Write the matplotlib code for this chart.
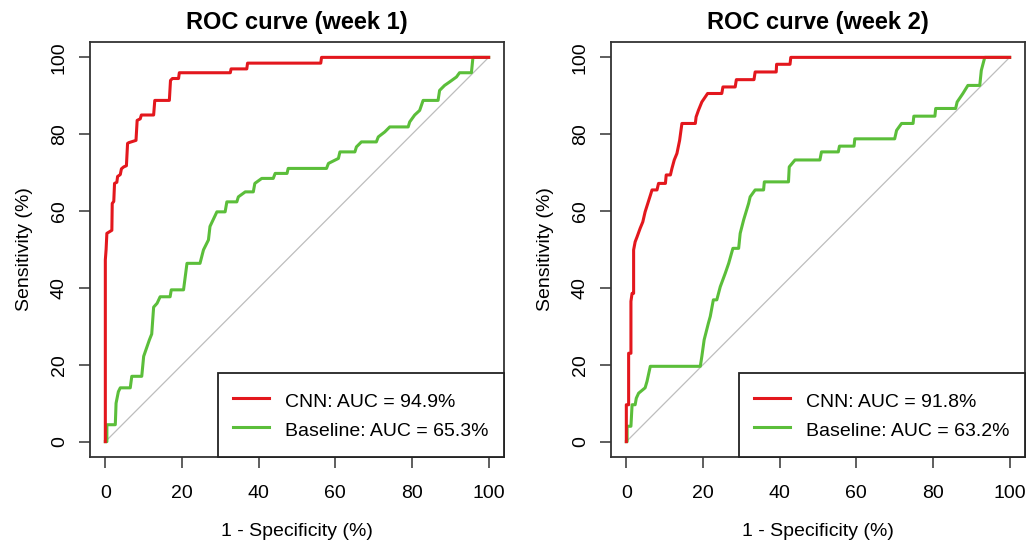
import matplotlib
matplotlib.use("Agg")
import matplotlib.pyplot as plt

plt.rcParams['font.family'] = ['Liberation Sans', 'DejaVu Sans']

# ROC points: (1 - specificity, sensitivity) in %
cnn_w1_fpr = [0, 0, 0.2, 0.4, 1.7, 1.8, 2.2, 2.4, 3.0, 3.2, 3.9, 4.2, 4.8, 5.5, 5.8, 6.1, 8.0, 8.3, 9.1, 9.4,
              12.6, 12.9, 16.7, 17.0, 17.5, 19.1, 19.3, 32.6, 32.8, 36.9, 37.1, 56.2, 56.4, 100]
cnn_w1_tpr = [0, 47.3, 50, 54.2, 55, 62, 62.5, 67.2, 67.5, 69, 69.5, 71, 71.5, 71.8, 77.6, 77.8, 78.4, 83.6, 84, 85,
              85, 88.8, 88.8, 94, 94.5, 94.5, 96, 96, 97, 97, 98.5, 98.5, 100, 100]

base_w1_fpr = [0, 0.4, 0.4, 2.6, 2.8, 3.4, 3.9, 6.5, 6.9, 9.5, 10, 11.5, 12.1, 12.6, 13.5, 14.3, 16.9, 17.2, 20.4,
               21.3, 24.7, 25.6, 26.9, 27.3, 29.1, 31.25, 31.7, 34.3, 34.7, 36.5, 38.6, 39, 40.8, 43.8, 44.3, 47.4,
               47.7, 57.7, 58.2, 60.8, 61.2, 65.1, 65.5, 66.8, 70.7, 71.2, 72.9, 74.2, 79, 79.4, 80.7, 82, 82.9,
               86.8, 87.2, 88.5, 89.8, 91.6, 92.4, 95.5, 95.9, 100]
base_w1_tpr = [0, 0, 4.4, 4.4, 10, 13, 14, 14, 17, 17, 22.2, 26.5, 28, 35, 36, 37.7, 37.7, 39.5, 39.5,
               46.4, 46.4, 49.9, 52.5, 56, 59.8, 59.8, 62.4, 62.4, 63.7, 65, 65, 67.2, 68.5, 68.5, 69.8, 69.8,
               71.1, 71.1, 72.4, 73.7, 75.4, 75.4, 76.7, 78, 78, 79.3, 80.6, 81.9, 81.9, 83.2, 85, 86.2, 88.8,
               88.8, 91.4, 92.7, 93.6, 94.9, 96, 96, 100, 100]

cnn_w2_fpr = [0, 0, 0.6, 0.6, 1.2, 1.2, 1.5, 1.9, 1.9, 2.3, 2.8, 3.6, 4.3, 4.9, 5.6, 6.3, 6.7, 8.0, 8.4, 10.2,
              10.4, 11.5, 11.9, 12.5, 13.2, 13.9, 14.5, 18.0, 18.2, 18.8, 19.7, 21.2, 24.9, 25.2, 28.4, 28.7,
              33.3, 33.6, 39.1, 39.2, 42.7, 42.9, 100]
cnn_w2_tpr = [0, 9.6, 9.6, 23, 23, 36.5, 38.6, 38.6, 49.9, 52, 53.3, 55.5, 57.2, 59.8, 62, 64.2, 65.5, 65.5, 67.2, 67.2,
              69.4, 69.4, 71.1, 73.3, 75, 78.4, 82.8, 82.8, 84.5, 86.2, 88.4, 90.6, 90.6, 92.3, 92.3, 94.2,
              94.2, 96.2, 96.2, 98.2, 98.2, 100, 100]

base_w2_fpr = [0, 0.2, 0.2, 1.2, 1.5, 2.3, 2.6, 3.2, 4.9, 5.4, 6.25, 19.3, 19.7, 20.3, 21.4, 21.9, 22.7, 23.6, 24.5,
               25.8, 26.7, 27.8, 29.3, 29.7, 30.6, 31.9, 32.3, 33.6, 35.8, 36, 42.3, 42.5, 44, 50.5, 50.9, 55.3,
               55.6, 59.4, 59.6, 70, 70.5, 71.8, 74.8, 75, 80.5, 80.7, 85.9, 86.3, 87.8, 89.1, 92.2, 92.6, 93.5, 100]
base_w2_tpr = [0, 0, 4, 4, 9.6, 9.6, 11.3, 12.6, 14, 15.7, 19.6, 19.6, 22.2, 26.5, 30.8, 32.6, 36.9, 36.9, 40.3,
               43.8, 46.4, 50.3, 50.3, 54.2, 57.7, 62, 63.7, 65.5, 65.5, 67.6, 67.6, 71.5, 73.3, 73.3, 75.4, 75.4,
               76.9, 76.9, 78.8, 78.8, 81, 82.8, 82.8, 84.7, 84.7, 86.7, 86.7, 88.4, 90.6, 92.7, 92.7, 96.6, 100, 100]

titles = ["ROC curve (week 1)", "ROC curve (week 2)"]
cnn_auc = [94.9, 91.8]
base_auc = [65.3, 63.2]
ticks = [0, 20, 40, 60, 80, 100]

red = "#E3171D"
green = "#5BBE3A"
fs = 14

fig = plt.figure(figsize=(10.27, 5.41), dpi=100)
panels = [
    (fig.add_axes([90 / 1027, 84 / 541, 414 / 1027, 415 / 541]), cnn_w1_fpr, cnn_w1_tpr, base_w1_fpr, base_w1_tpr),
    (fig.add_axes([611 / 1027, 84 / 541, 414 / 1027, 415 / 541]), cnn_w2_fpr, cnn_w2_tpr, base_w2_fpr, base_w2_tpr),
]

for i, (ax, cf, ct, bf, bt) in enumerate(panels):
    ax.plot([0, 100], [0, 100], color="#BDBDBD", lw=0.9, zorder=1)
    ax.plot(bf, bt, color=green, lw=2.2, label=f"Baseline: AUC = {base_auc[i]}%", zorder=2)
    ax.plot(cf, ct, color=red, lw=2.2, label=f"CNN: AUC = {cnn_auc[i]}%", zorder=3)
    ax.set_xlim(-4, 104)
    ax.set_ylim(-4, 104)
    ax.set_xticks(ticks)
    ax.set_yticks(ticks)
    ax.tick_params(direction='out', length=8, width=1.1, labelsize=fs, color="#333333")
    ax.tick_params(axis='x', pad=12)
    ax.tick_params(axis='y', pad=8)
    plt.setp(ax.get_yticklabels(), rotation=90, va='center')
    for s in ax.spines.values():
        s.set_linewidth(1.3)
        s.set_color("#333333")
    ax.set_title(titles[i], fontsize=17, fontweight='bold', pad=9)
    ax.set_xlabel("1 - Specificity (%)", fontsize=fs, labelpad=15)
    ax.set_ylabel("Sensitivity (%)", fontsize=fs, labelpad=12.5)
    h, l = ax.get_legend_handles_labels()
    leg = ax.legend(h[::-1], l[::-1], loc='lower right', fontsize=fs, fancybox=False,
                    edgecolor="#222222", framealpha=1, borderaxespad=0, borderpad=0.8,
                    handlelength=1.85, handleheight=1.5, handletextpad=0.8, labelspacing=0.26)
    leg.get_frame().set_linewidth(1.3)

fig.savefig("out.png", dpi=100)
